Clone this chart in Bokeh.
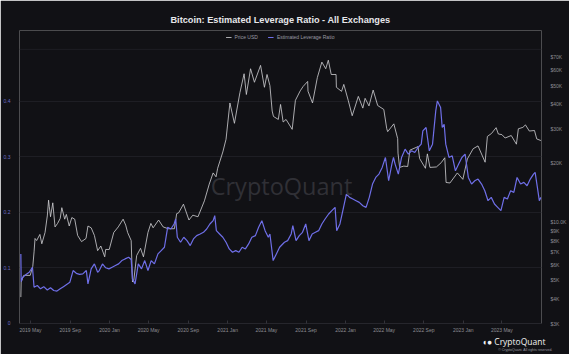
import pandas as pd
from bokeh.plotting import figure
from bokeh.models import (Range1d, LogScale, LogAxis, FixedTicker, MonthsTicker,
                          DatetimeTickFormatter, Legend, LegendItem, Label, Span, Title)
from bokeh.embed import file_html
from bokeh.resources import INLINE

# ---------------- data ----------------
price_dates = [
    "2019-04-01", "2019-04-02", "2019-04-10", "2019-04-20", "2019-04-30", "2019-05-08", "2019-05-12",
    "2019-05-15", "2019-05-20", "2019-05-30", "2019-06-05", "2019-06-15", "2019-06-22", "2019-06-26",
    "2019-06-28", "2019-07-02", "2019-07-09", "2019-07-16", "2019-07-24", "2019-08-01", "2019-08-06",
    "2019-08-15", "2019-08-20", "2019-08-29", "2019-09-06", "2019-09-15", "2019-09-24", "2019-10-06",
    "2019-10-20", "2019-10-26", "2019-11-05", "2019-11-15", "2019-11-25", "2019-12-05", "2019-12-17",
    "2019-12-20", "2019-12-31", "2020-01-14", "2020-01-28", "2020-02-12", "2020-02-20", "2020-02-26",
    "2020-03-08", "2020-03-12", "2020-03-16", "2020-03-25", "2020-04-06", "2020-04-15", "2020-04-29",
    "2020-05-08", "2020-05-15", "2020-06-01", "2020-06-15", "2020-07-01", "2020-07-20", "2020-07-27",
    "2020-08-02", "2020-08-17", "2020-09-03", "2020-09-15", "2020-10-01", "2020-10-21", "2020-11-05",
    "2020-11-17", "2020-11-26", "2020-12-01", "2020-12-17", "2020-12-27", "2021-01-08", "2021-01-22",
    "2021-02-08", "2021-02-21", "2021-02-28", "2021-03-13", "2021-03-25", "2021-04-13", "2021-04-25",
    "2021-05-03", "2021-05-12", "2021-05-19", "2021-05-23", "2021-06-07", "2021-06-14", "2021-06-22",
    "2021-07-01", "2021-07-20", "2021-07-30", "2021-08-14", "2021-08-23", "2021-09-06", "2021-09-07",
    "2021-09-21", "2021-10-06", "2021-10-20", "2021-11-01", "2021-11-09", "2021-11-18", "2021-12-03",
    "2021-12-04", "2021-12-20", "2021-12-27", "2022-01-10", "2022-01-22", "2022-02-10", "2022-02-24",
    "2022-03-03", "2022-03-15", "2022-03-28", "2022-04-11", "2022-04-30", "2022-05-09", "2022-05-12",
    "2022-05-31", "2022-06-12", "2022-06-13", "2022-06-18", "2022-07-01", "2022-07-13", "2022-07-20",
    "2022-08-14", "2022-08-19", "2022-09-06", "2022-09-12", "2022-09-20", "2022-10-10", "2022-10-25",
    "2022-11-05", "2022-11-09", "2022-11-21", "2022-12-14", "2022-12-31", "2023-01-14", "2023-02-01",
    "2023-02-16", "2023-03-10", "2023-03-17", "2023-03-30", "2023-04-13", "2023-04-20", "2023-05-01",
    "2023-05-11", "2023-05-30", "2023-06-15", "2023-06-21", "2023-07-05", "2023-07-13", "2023-07-25",
    "2023-08-10", "2023-08-17", "2023-08-30",
]
price_usd = [
    4100, 4900, 5300, 5300, 5300, 5900, 7000,
    8200, 8000, 8600, 7700, 8800, 10700, 12900,
    12000, 10600, 12500, 9400, 9800, 10400, 11800,
    10300, 10900, 9500, 10500, 10300, 8500, 7900,
    8200, 9500, 9300, 8500, 7100, 7500, 6600,
    7200, 7200, 8800, 9400, 10300, 9600, 8800,
    8000, 4900, 5000, 6700, 7300, 6600, 8800,
    9800, 9300, 10200, 9400, 9200, 9200, 11000,
    11100, 12300, 10200, 10800, 10600, 12800, 15600,
    17800, 17000, 18800, 22800, 26500, 40700, 32000,
    46000, 57500, 45000, 61000, 52000, 63500, 49000,
    57000, 50000, 37000, 34700, 33500, 40000, 32500,
    33500, 29800, 42000, 47000, 49500, 52500, 46800,
    40700, 55000, 66000, 61000, 67500, 57000, 57000,
    49000, 46700, 50700, 41800, 35000, 44000, 38300,
    43000, 39300, 47400, 39500, 37700, 30100, 29000,
    31800, 26700, 22500, 19000, 19300, 19200, 23300,
    24300, 21100, 18800, 22300, 19000, 19100, 20100,
    21300, 15900, 15800, 17800, 16500, 21000, 23700,
    24500, 20200, 27400, 28400, 30400, 28200, 28000,
    26900, 27700, 25000, 30000, 30500, 31400, 29200,
    29400, 26600, 26100,
]

lev_dates = [
    "2019-04-01", "2019-04-02", "2019-04-07", "2019-04-17", "2019-04-27", "2019-05-07", "2019-05-12",
    "2019-05-22", "2019-06-01", "2019-06-11", "2019-06-22", "2019-07-02", "2019-07-12", "2019-07-22",
    "2019-08-01", "2019-08-11", "2019-08-21", "2019-08-31", "2019-09-10", "2019-09-20", "2019-09-30",
    "2019-10-10", "2019-10-21", "2019-10-26", "2019-11-05", "2019-11-15", "2019-11-25", "2019-11-30",
    "2019-12-10", "2019-12-20", "2019-12-30", "2020-01-09", "2020-01-19", "2020-01-29", "2020-02-08",
    "2020-02-18", "2020-02-29", "2020-03-08", "2020-03-12", "2020-03-20", "2020-03-30", "2020-04-09",
    "2020-04-19", "2020-04-29", "2020-05-09", "2020-05-19", "2020-05-30", "2020-06-09", "2020-06-19",
    "2020-06-24", "2020-06-29", "2020-07-09", "2020-07-19", "2020-07-24", "2020-07-29", "2020-08-08",
    "2020-08-18", "2020-08-28", "2020-09-07", "2020-09-17", "2020-09-27", "2020-10-08", "2020-10-18",
    "2020-10-28", "2020-11-07", "2020-11-17", "2020-11-22", "2020-11-27", "2020-12-07", "2020-12-17",
    "2020-12-27", "2021-01-06", "2021-01-16", "2021-01-26", "2021-02-05", "2021-02-15", "2021-02-25",
    "2021-03-07", "2021-03-17", "2021-03-28", "2021-04-07", "2021-04-17", "2021-04-27", "2021-05-07",
    "2021-05-12", "2021-05-17", "2021-05-22", "2021-06-01", "2021-06-11", "2021-06-26", "2021-07-06",
    "2021-07-17", "2021-07-22", "2021-08-01", "2021-08-11", "2021-08-21", "2021-08-31", "2021-09-10",
    "2021-09-20", "2021-09-30", "2021-10-10", "2021-10-20", "2021-10-30", "2021-11-10", "2021-11-20",
    "2021-11-30", "2021-12-05", "2021-12-15", "2021-12-25", "2022-01-04", "2022-01-14", "2022-01-24",
    "2022-02-03", "2022-02-13", "2022-02-24", "2022-03-06", "2022-03-16", "2022-03-26", "2022-04-05",
    "2022-04-15", "2022-04-25", "2022-05-05", "2022-05-15", "2022-05-25", "2022-05-30", "2022-06-04",
    "2022-06-14", "2022-06-24", "2022-07-05", "2022-07-15", "2022-07-25", "2022-08-04", "2022-08-14",
    "2022-08-24", "2022-08-29", "2022-09-08", "2022-09-18", "2022-09-28", "2022-10-08", "2022-10-13",
    "2022-10-23", "2022-10-28", "2022-11-03", "2022-11-08", "2022-11-18", "2022-11-28", "2022-12-08",
    "2022-12-18", "2022-12-28", "2023-01-07", "2023-01-17", "2023-01-27", "2023-02-06", "2023-02-16",
    "2023-02-27", "2023-03-09", "2023-03-19", "2023-03-29", "2023-04-08", "2023-04-18", "2023-04-28",
    "2023-05-08", "2023-05-18", "2023-05-28", "2023-06-07", "2023-06-17", "2023-06-28", "2023-07-08",
    "2023-07-18", "2023-07-28", "2023-08-07", "2023-08-12", "2023-08-19", "2023-08-25", "2023-08-30",
]
lev_ratio = [
    0.125, 0.075, 0.083, 0.088, 0.092, 0.101, 0.065,
    0.068, 0.062, 0.066, 0.060, 0.064, 0.059, 0.058,
    0.062, 0.066, 0.070, 0.074, 0.095, 0.090, 0.088,
    0.089, 0.095, 0.071, 0.098, 0.107, 0.092, 0.095,
    0.107, 0.100, 0.098, 0.101, 0.104, 0.107, 0.113,
    0.116, 0.119, 0.115, 0.080, 0.071, 0.107, 0.098,
    0.113, 0.095, 0.113, 0.107, 0.125, 0.131, 0.137,
    0.155, 0.173, 0.170, 0.179, 0.188, 0.155, 0.146,
    0.155, 0.149, 0.140, 0.152, 0.158, 0.161, 0.164,
    0.170, 0.179, 0.185, 0.194, 0.167, 0.161, 0.155,
    0.146, 0.134, 0.128, 0.131, 0.128, 0.137, 0.134,
    0.143, 0.155, 0.158, 0.173, 0.185, 0.167, 0.155,
    0.161, 0.137, 0.113, 0.125, 0.137, 0.146, 0.149,
    0.161, 0.176, 0.149, 0.158, 0.164, 0.179, 0.149,
    0.161, 0.164, 0.167, 0.179, 0.188, 0.197, 0.203,
    0.209, 0.167, 0.179, 0.206, 0.233, 0.227, 0.224,
    0.221, 0.218, 0.212, 0.209, 0.227, 0.251, 0.263,
    0.269, 0.281, 0.299, 0.257, 0.287, 0.299, 0.287,
    0.269, 0.299, 0.314, 0.305, 0.311, 0.308, 0.317,
    0.323, 0.347, 0.353, 0.311, 0.323, 0.383, 0.401,
    0.389, 0.353, 0.359, 0.323, 0.299, 0.302, 0.275,
    0.287, 0.299, 0.305, 0.263, 0.251, 0.257, 0.260,
    0.251, 0.239, 0.221, 0.227, 0.215, 0.209, 0.203,
    0.227, 0.224, 0.239, 0.236, 0.263, 0.251, 0.254,
    0.248, 0.260, 0.269, 0.272, 0.245, 0.221, 0.227,
]

left_ticks = [0, 0.1, 0.2, 0.3, 0.4]
right_ticks = [3000, 4000, 5000, 6000, 7000, 8000, 9000, 10000,
               20000, 30000, 40000, 50000, 60000, 70000]
right_tick_labels = ["$3K", "$4K", "$5K", "$6K", "$7K", "$8K", "$9K", "$10.0K",
                     "$20K", "$30K", "$40K", "$50K", "$60K", "$70K"]

# ---------------- styling ----------------
BG = "#111115"
GRID = "#1e1e24"
PRICE_C = "#d0d0d4"
LEV_C = "#6f6fe8"
FONT = "Liberation Sans"

pdates = pd.to_datetime(price_dates)
ldates = pd.to_datetime(lev_dates)

x0 = pd.Timestamp("2019-03-27 20:00")
x1 = pd.Timestamp("2023-08-31 18:00")

# frame spans y=30..323 px; the top strip hosts the legend
p = figure(width=569, height=354, x_axis_type="datetime",
           x_range=Range1d(x0, x1), y_range=Range1d(-0.0005, 0.528),
           output_backend="svg", toolbar_location=None,
           background_fill_color=BG, border_fill_color=BG,
           min_border_left=15, min_border_right=19, min_border_top=30, min_border_bottom=31)
p.outline_line_color = None

p.extra_y_ranges = {"price": Range1d(3000, 95900)}
p.extra_y_scales = {"price": LogScale()}

r_price = p.line(pdates, price_usd, y_range_name="price", line_color=PRICE_C,
                 line_width=0.9, line_alpha=0.9)
r_lev = p.line(ldates, lev_ratio, line_color=LEV_C, line_width=1.2)

# left axis
ya = p.yaxis[0]
ya.ticker = FixedTicker(ticks=left_ticks)
ya.major_label_overrides = {t: ("0" if t == 0 else f"{t:.1f}") for t in left_ticks}
ya.axis_line_color = None
ya.major_tick_line_color = None
ya.minor_tick_line_color = None
ya.major_label_text_color = "#6b6bc8"
ya.major_label_text_font_size = "5px"
ya.major_label_text_font = FONT
ya.major_label_standoff = 3

# right axis
ra = LogAxis(y_range_name="price", ticker=FixedTicker(ticks=right_ticks))
ra.major_label_overrides = {t: lab for t, lab in zip(right_ticks, right_tick_labels)}
ra.axis_line_color = None
ra.major_tick_line_color = None
ra.minor_tick_line_color = None
ra.major_label_text_color = "#8c8c92"
ra.major_label_text_font_size = "5px"
ra.major_label_text_font = FONT
ra.major_label_standoff = 3
p.add_layout(ra, "right")

# x axis
xa = p.xaxis[0]
xa.ticker = MonthsTicker(months=[0, 4, 8])
xa.formatter = DatetimeTickFormatter(months="%Y %b", years="%Y %b", days="%Y %b")
xa.axis_line_color = "#26262c"
xa.major_tick_line_color = "#33333a"
xa.major_tick_in = 3
xa.major_tick_out = 0
xa.minor_tick_line_color = None
xa.major_label_text_color = "#8c8c92"
xa.major_label_text_font_size = "5px"
xa.major_label_text_font = FONT
xa.major_label_standoff = 3

p.xgrid.grid_line_color = None
p.ygrid.grid_line_color = GRID
p.add_layout(Span(location=0.494, dimension="width", line_color=GRID, line_width=1))

# title
p.title.text = "Bitcoin: Estimated Leverage Ratio - All Exchanges"
p.title.align = "center"
p.title.text_font = FONT
p.title.text_font_size = "9.2px"
p.title.text_font_style = "bold"
p.title.text_color = "#e6e6ea"
p.title.standoff = 11

# legend (inside the top strip of the frame)
legend = Legend(items=[LegendItem(label="Price USD", renderers=[r_price]),
                       LegendItem(label="Estimated Leverage Ratio", renderers=[r_lev])],
                orientation="horizontal", location="top_center",
                label_text_font_size="5px", label_text_color="#9a9aa2", label_text_font=FONT,
                glyph_width=6, glyph_height=6, label_standoff=3, spacing=10,
                padding=0, margin=4, background_fill_alpha=0, border_line_alpha=0,
                label_height=6)
p.add_layout(legend)

# watermark
p.add_layout(Label(x=262, y=138, x_units="screen", y_units="screen", text="CryptoQuant",
                   text_font="Open Sans", text_font_size="23.5px", text_color="#303036",
                   text_align="center", text_baseline="middle"))

# logo and copyright below the x axis
logo = Title(text="◖● CryptoQuant", align="right", offset=-4, standoff=-3,
             text_font="Open Sans", text_font_size="8.5px", text_font_style="normal",
             text_color="#f2f2f2")
copy = Title(text="© CryptoQuant. All rights reserved.", align="right", offset=-11, standoff=0,
             text_font=FONT, text_font_size="3.5px", text_font_style="normal",
             text_color="#9a9aa0")
p.add_layout(logo, "below")
p.add_layout(copy, "below")

open("out.html", "w").write(file_html(p, INLINE))
